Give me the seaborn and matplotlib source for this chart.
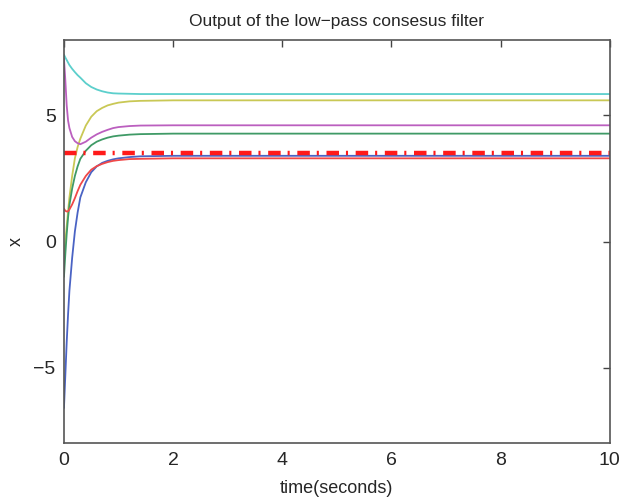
import numpy as np
import pandas as pd
import seaborn as sns
import matplotlib.pyplot as plt

# readings
t = [0, 0.025, 0.05, 0.075, 0.1, 0.15, 0.2, 0.25, 0.3, 0.4,
	0.5, 0.6, 0.7, 0.8, 0.9, 1.0, 1.2, 1.4, 2, 10]
x_cyan = [7.41, 7.3, 7.2, 7.1, 7.0, 6.85, 6.72, 6.6, 6.5, 6.28,
	6.13, 6.03, 5.96, 5.91, 5.88, 5.87, 5.86, 5.85, 5.85, 5.85]
x_yellow = [-0.6, 0.0, 0.6, 1.2, 1.75, 2.6, 3.3, 3.75, 4.08, 4.6,
	4.95, 5.17, 5.3, 5.4, 5.46, 5.51, 5.56, 5.58, 5.6, 5.6]
x_magenta = [7.25, 6.4, 5.4, 4.8, 4.5, 4.15, 3.98, 3.9, 3.86, 3.96,
	4.12, 4.25, 4.35, 4.43, 4.5, 4.54, 4.58, 4.6, 4.61, 4.61]
x_green = [-1.4, -0.5, 0.3, 0.95, 1.45, 2.1, 2.6, 2.98, 3.28, 3.6,
	3.82, 3.96, 4.05, 4.12, 4.17, 4.2, 4.24, 4.26, 4.28, 4.28]
x_blue = [-6.6, -5.3, -4.0, -2.9, -1.95, -0.65, 0.4, 1.15, 1.75, 2.35,
	2.75, 2.98, 3.12, 3.2, 3.26, 3.3, 3.35, 3.38, 3.4, 3.4]
x_red = [1.3, 1.22, 1.19, 1.2, 1.27, 1.47, 1.72, 2.0, 2.25, 2.6,
	2.85, 2.99, 3.08, 3.15, 3.2, 3.23, 3.27, 3.28, 3.3, 3.3]
consensus = 3.5

agents = ["cyan", "yellow", "magenta", "green", "blue", "red"]
colors = {"cyan": "#5ccfcc", "yellow": "#c9c855", "magenta": "#bb5fbf",
          "green": "#3f9a66", "blue": "#4a63c4", "red": "#f04848"}

df = pd.DataFrame({
	"time": t * 6,
	"x": x_cyan + x_yellow + x_magenta + x_green + x_blue + x_red,
	"agent": np.repeat(agents, len(t)),
})

sns.set_style("white")
plt.rcParams['font.family'] = ['Liberation Sans', 'DejaVu Sans']
plt.rcParams['lines.scale_dashes'] = False

fig = plt.figure(figsize=(6.21, 4.98), dpi=100)
ax = fig.add_axes([0.103, 0.110, 0.879, 0.810])

sns.lineplot(data=df, x="time", y="x", hue="agent", palette=colors,
	linewidth=1.3, legend=False, ax=ax, sort=False)
ax.axhline(consensus, color="#ff1a1a", linewidth=3.2, dashes=(9, 5, 1.5, 5.5))

ax.set_xlim(0, 10)
ax.set_ylim(-8, 8)
ax.set_xticks([0, 2, 4, 6, 8, 10])
ax.set_yticks([-5, 0, 5])
ax.tick_params(direction="in", top=True, right=True, length=5, width=1,
	color="#444444", labelsize=14, pad=6)
for s in ax.spines.values():
	s.set_color("#555555")
	s.set_linewidth(1.2)

ax.set_title("Output of the low\u2212pass consesus filter", fontsize=12.5, pad=10)
ax.set_xlabel("time(seconds)", fontsize=13, labelpad=8)
ax.set_ylabel("x", fontsize=13, labelpad=6)

plt.savefig("out.png", dpi=100)
